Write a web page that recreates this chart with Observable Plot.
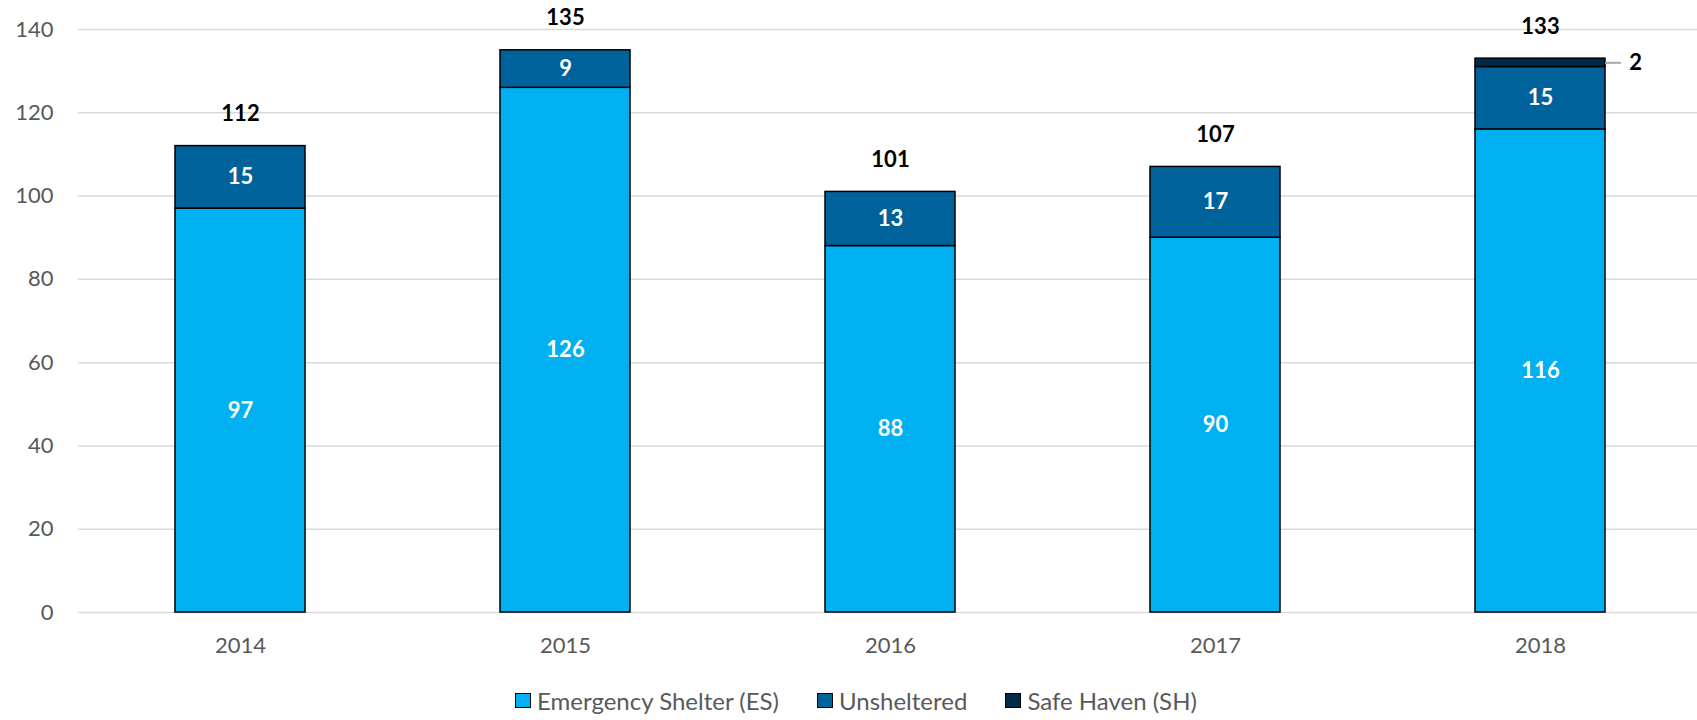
<!DOCTYPE html>
<html>
<head>
<meta charset="utf-8">
<script src="https://cdn.jsdelivr.net/npm/d3@7"></script>
<script src="https://cdn.jsdelivr.net/npm/@observablehq/plot@0.6"></script>
<style>
  body { margin: 0; background: #fff; font-family: Lato, "Open Sans", sans-serif; }
  #legend { display: flex; justify-content: flex-start; padding-left: 515px; height: 40px; margin-top: 5px; align-items: center; font-size: 24px; color: #595959; }
  .item { display: flex; align-items: center; margin-right: 38px; }
  .sw { width: 14px; height: 13px; border: 1.5px solid #000; margin-right: 6px; }
</style>
</head>
<body>
<div id="chart"></div>
<div id="legend"></div>
<script>
const years = ["2014", "2015", "2016", "2017", "2018"];
const series = ["Emergency Shelter (ES)", "Unsheltered", "Safe Haven (SH)"];
const colors = ["#00B0F0", "#00629B", "#002A47"];
const esValues = [97, 126, 88, 90, 116];
const unshelteredValues = [15, 9, 13, 17, 15];
const safeHavenValues = [0, 0, 0, 0, 2];
const yTicks = [0, 20, 40, 60, 80, 100, 120, 140];

const valuesBySeries = [esValues, unshelteredValues, safeHavenValues];
const data = [];
series.forEach((s, si) => years.forEach((y, i) => {
  data.push({year: y, series: s, value: valuesBySeries[si][i]});
}));
const totals = years.map((y, i) => ({year: y, total: esValues[i] + unshelteredValues[i] + safeHavenValues[i]}));
const shData = data.filter(d => d.series === "Safe Haven (SH)" && d.value > 0);
const shLabels = shData.map(d => {
  const i = years.indexOf(d.year);
  return {year: d.year, mid: esValues[i] + unshelteredValues[i] + d.value / 2, value: d.value};
});

const font = "Lato, 'Open Sans', sans-serif";
const chart = Plot.plot({
  width: 1697,
  height: 675,
  marginTop: 29,
  marginBottom: 63,
  marginLeft: 78,
  marginRight: 0,
  style: {fontFamily: font, fontSize: "22px", color: "#595959", background: "#fff"},
  x: {domain: years, range: [78, 1703], paddingInner: 0.6, paddingOuter: 0.3, label: null, tickSize: 0, tickPadding: 25},
  y: {domain: [0, 140], ticks: yTicks, label: null, tickSize: 0, tickPadding: 25},
  color: {domain: series, range: colors},
  marks: [
    Plot.ruleY(yTicks, {stroke: "#d9d9d9", strokeWidth: 1.5}),
    Plot.barY(data, Plot.stackY({x: "year", y: "value", fill: "series", z: "series", order: series, stroke: "#000", strokeWidth: 1.5})),
    Plot.text(data, Plot.stackY({
      filter: d => d.series !== "Safe Haven (SH)",
      x: "year", y: "value", z: "series", order: series, text: d => String(d.value),
      fill: "#fff", fontWeight: "bold", fontSize: 22
    })),
    Plot.text(totals, {x: "year", y: "total", text: d => String(d.total), dy: -32, fill: "#000", fontWeight: "bold", fontSize: 22}),
    Plot.tickY(shLabels, {x: "year", y: "mid", dx: 130, insetRight: 114, stroke: "#a6a6a6", strokeWidth: 2}),
    Plot.text(shLabels, {x: "year", y: "mid", text: d => String(d.value), dx: 95, fill: "#000", fontWeight: "bold", fontSize: 22})
  ]
});
document.getElementById("chart").appendChild(chart);

const legend = document.getElementById("legend");
series.forEach((s, i) => {
  const item = document.createElement("div");
  item.className = "item";
  const sw = document.createElement("div");
  sw.className = "sw";
  sw.style.background = colors[i];
  const t = document.createElement("span");
  t.textContent = s;
  item.appendChild(sw);
  item.appendChild(t);
  legend.appendChild(item);
});
</script>
</body>
</html>
